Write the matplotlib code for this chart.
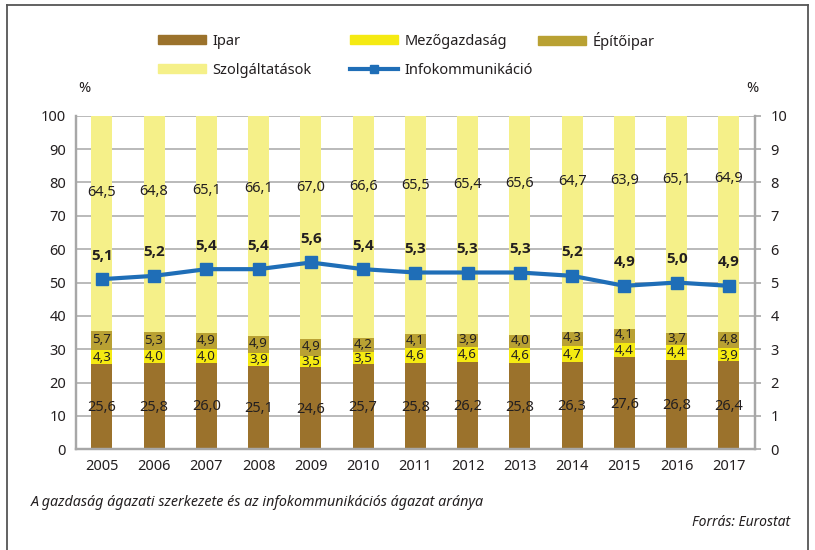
import matplotlib
matplotlib.use("Agg")
import matplotlib.pyplot as plt
import numpy as np
from matplotlib.lines import Line2D
from matplotlib.patches import Patch

plt.rcParams['font.family'] = ['Noto Sans', 'DejaVu Sans']

years = ["2005", "2006", "2007", "2008", "2009", "2010", "2011",
         "2012", "2013", "2014", "2015", "2016", "2017"]
ipar = [25.6, 25.8, 26.0, 25.1, 24.6, 25.7, 25.8, 26.2, 25.8, 26.3, 27.6, 26.8, 26.4]
mezogazdasag = [4.3, 4.0, 4.0, 3.9, 3.5, 3.5, 4.6, 4.6, 4.6, 4.7, 4.4, 4.4, 3.9]
epitoipar = [5.7, 5.3, 4.9, 4.9, 4.9, 4.2, 4.1, 3.9, 4.0, 4.3, 4.1, 3.7, 4.8]
szolgaltatasok = [64.5, 64.8, 65.1, 66.1, 67.0, 66.6, 65.5, 65.4, 65.6, 64.7, 63.9, 65.1, 64.9]
infokom = [5.1, 5.2, 5.4, 5.4, 5.6, 5.4, 5.3, 5.3, 5.3, 5.2, 4.9, 5.0, 4.9]

series_names = ["Ipar", "Mezőgazdaság", "Építőipar", "Szolgáltatások"]
colors = ["#9B722C", "#F5EA12", "#B9A133", "#F5F089"]
line_color = "#1F6EB7"
text_color = "#231F20"
grid_color = "#A7A7A7"

fig = plt.figure(figsize=(8.15, 5.5), dpi=100)
ax = fig.add_axes([0.0929, 0.1831, 0.8335, 0.6065])
ax2 = ax.twinx()

x = np.arange(len(years))
w = 0.4
stack = [ipar, mezogazdasag, epitoipar, szolgaltatasok]
bottom = np.zeros(len(years))
for vals, col in zip(stack, colors):
    ax.bar(x, vals, w, bottom=bottom, color=col, zorder=2, linewidth=0)
    bottom = bottom + np.array(vals)

fmt = lambda v: f"{v:.1f}".replace(".", ",")
# labels for lower three segments at segment centres (small nudges)
nudges = [-0.3, -0.1, 0.25]
sizes = [10.5, 9.6, 9.6]
bottom = np.zeros(len(years))
for k, vals in enumerate(stack[:3]):
    vals = np.array(vals)
    for i in range(len(years)):
        ax.text(x[i], bottom[i] + vals[i] / 2 + nudges[k], fmt(vals[i]),
                ha="center", va="center", fontsize=sizes[k], color=text_color, zorder=4)
    bottom = bottom + vals
# services labels (placed in upper part of the segment)
for i in range(len(years)):
    ax.text(x[i], 77.0 + 0.35 * i, fmt(szolgaltatasok[i]), ha="center", va="center",
            fontsize=10.5, color=text_color, zorder=4)

ax.set_xlim(-0.5, len(years) - 0.5)
ax.set_ylim(0, 100)
ax.set_yticks(np.arange(0, 101, 10))
ax.yaxis.grid(True, color=grid_color, linewidth=1.1, zorder=0)
ax.set_axisbelow(True)
ax.set_xticks(x)
ax.set_xticklabels(years)
ax.tick_params(axis="x", length=0, pad=7, labelsize=10.5, colors=text_color)
ax.tick_params(axis="y", length=0, pad=7, labelsize=10.5, colors=text_color)

for a in (ax, ax2):
    a.spines["top"].set_visible(False)
    for s in ["left", "right", "bottom"]:
        a.spines[s].set_color(grid_color)
        a.spines[s].set_linewidth(1.6)

ax2.plot(x, infokom, color=line_color, linewidth=3, marker="s", markersize=8,
         zorder=5)
ax2.set_ylim(0, 10)
ax2.set_yticks(np.arange(0, 11, 1))
ax2.tick_params(axis="y", length=4, width=1.2, pad=7,
                labelsize=10.5, labelcolor=text_color, color=grid_color)
for i, v in enumerate(infokom):
    ax2.annotate(fmt(v), (x[i], v), xytext=(0, 17), textcoords="offset points",
                 ha="center", va="center", fontsize=11, fontweight="bold",
                 family=["Open Sans", "DejaVu Sans"], color=text_color, zorder=6)

# "%" labels
fig.text(84 / 815, 1 - 88 / 550, "%", ha="center", va="center", fontsize=10.5, color=text_color)
fig.text(752 / 815, 1 - 88 / 550, "%", ha="center", va="center", fontsize=10.5, color=text_color)

# legend in three manually positioned columns
handles = [Patch(color=c) for c in colors]
line_handle = Line2D([], [], color=line_color, linewidth=3, marker="s", markersize=6)
cols = [([handles[0], handles[3]], [series_names[0], series_names[3]], 158, 34),
        ([handles[1], line_handle], [series_names[1], "Infokommunikáció"], 350, 34),
        ([handles[2]], [series_names[2]], 538, 32)]
for hs, ls, xpx, ypx in cols:
    fig.legend(hs, ls, loc="upper left", bbox_to_anchor=(xpx / 815, 1 - ypx / 550),
               frameon=False, fontsize=10.5, handlelength=3.3, handleheight=0.55,
               handletextpad=0.45, labelspacing=0.95, borderpad=0,
               borderaxespad=0, labelcolor=text_color)

# captions
fig.text(31 / 815, 1 - 503 / 550, "A gazdaság ágazati szerkezete és az infokommunikációs ágazat aránya",
         ha="left", va="center", fontsize=10.3, style="italic", color=text_color)
fig.text(790 / 815, 1 - 522 / 550, "Forrás: Eurostat", ha="right", va="center",
         fontsize=10, style="italic", color=text_color)

# outer frame (top, left, right)
frame_kw = dict(color="#555555", linewidth=1.3, transform=fig.transFigure)
fig.add_artist(Line2D([7 / 815, 7 / 815], [0, 1 - 5 / 550], **frame_kw))
fig.add_artist(Line2D([7 / 815, 808 / 815], [1 - 5 / 550, 1 - 5 / 550], **frame_kw))
fig.add_artist(Line2D([808 / 815, 808 / 815], [0, 1 - 5 / 550], **frame_kw))

fig.savefig("out.png", dpi=100)
